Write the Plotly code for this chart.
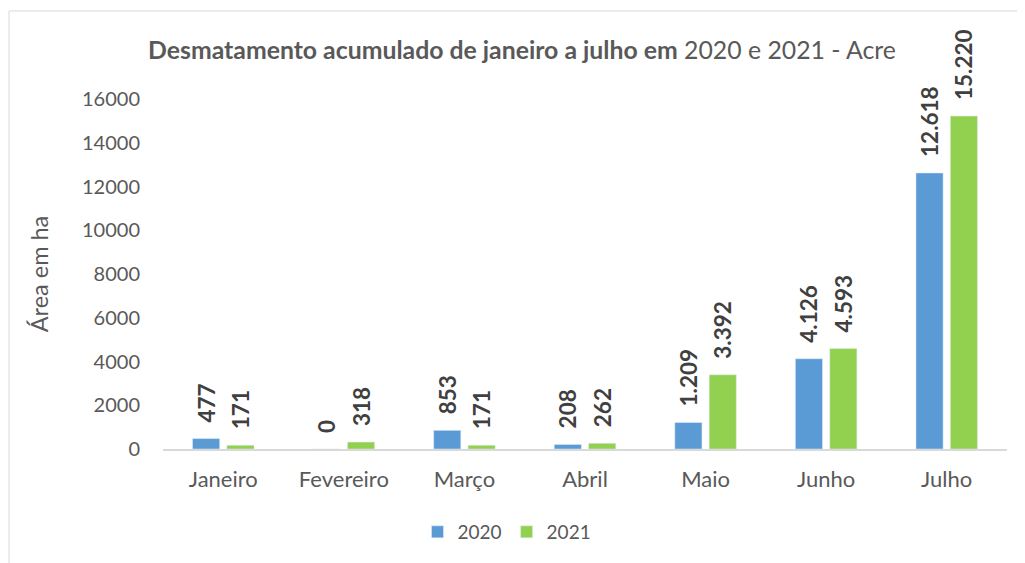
import plotly.graph_objects as go

meses = ["Janeiro", "Fevereiro", "Março", "Abril", "Maio", "Junho", "Julho"]
valores_2020 = [477, 0, 853, 208, 1209, 4126, 12618]
valores_2021 = [171, 318, 171, 262, 3392, 4593, 15220]
y_ticks = [0, 2000, 4000, 6000, 8000, 10000, 12000, 14000, 16000]

FONT = "Lato"
GRAY = "#595959"
OFF = 8  # browser body margin

fig = go.Figure()
for nome, vals, cor in [("2020", valores_2020, "#5B9BD5"), ("2021", valores_2021, "#92D050")]:
    fig.add_trace(go.Bar(
        name=nome, x=meses, y=vals, marker_color=cor,
        texttemplate="\u2007%{y:,}", textposition="outside", textangle=-90,
        constraintext="none",
        textfont=dict(family=FONT, size=22.5, color="#404040", weight="bold"),
        cliponaxis=False,
    ))

W, H = 1025 - OFF, 563 - OFF
L, R, T, B = 163 - OFF, 1025 - 1007, 99 - OFF, 563 - 449
pw = W - L - R
ph = H - T - B

fig.update_layout(
    width=W, height=H,
    margin=dict(l=L, r=R, t=T, b=B, autoexpand=False),
    paper_bgcolor="white", plot_bgcolor="white",
    separators=",.",
    barmode="group", bargap=0.43, bargroupgap=0.21,
    font=dict(family=FONT, color=GRAY),
    title=dict(
        text="<b>Desmatamento acumulado de janeiro a julho em</b> 2020 e 2021 - Acre",
        x=(522 - OFF) / W, xref="container", xanchor="center",
        y=1 - (50 - OFF) / H, yref="container", yanchor="middle",
        font=dict(family=FONT, size=24.8, color=GRAY),
    ),
    showlegend=True,
    legend=dict(
        orientation="h", x=(507 - 163) / pw, xanchor="center",
        y=(449 - 532) / ph, yanchor="middle",
        font=dict(family=FONT, size=19, color=GRAY),
        itemwidth=30, traceorder="normal",
    ),
    xaxis=dict(
        showgrid=False, showline=True, linecolor="#D9D9D9", linewidth=1.5,
        ticks="", tickfont=dict(family=FONT, size=22, color=GRAY),
        ticklabelstandoff=10,
    ),
    yaxis=dict(
        range=[0, 16000], tickvals=y_ticks, tickformat="d",
        showgrid=False, zeroline=False, showline=False, ticks="",
        tickfont=dict(family=FONT, size=20, color=GRAY),
        ticklabelstandoff=22,
        title=dict(text="Área em ha", font=dict(family=FONT, size=23.5, color=GRAY), standoff=26),
    ),
    shapes=[dict(
        type="rect", xref="paper", yref="paper",
        x0=(9 - 163) / pw, x1=(1025 + 5 - 163) / pw,
        y0=(449 - (563 + 5)) / ph, y1=(449 - 11) / ph,
        line=dict(color="#D9D9D9", width=1), fillcolor="rgba(0,0,0,0)", layer="below",
    )],
)

fig.write_html("out.html")
